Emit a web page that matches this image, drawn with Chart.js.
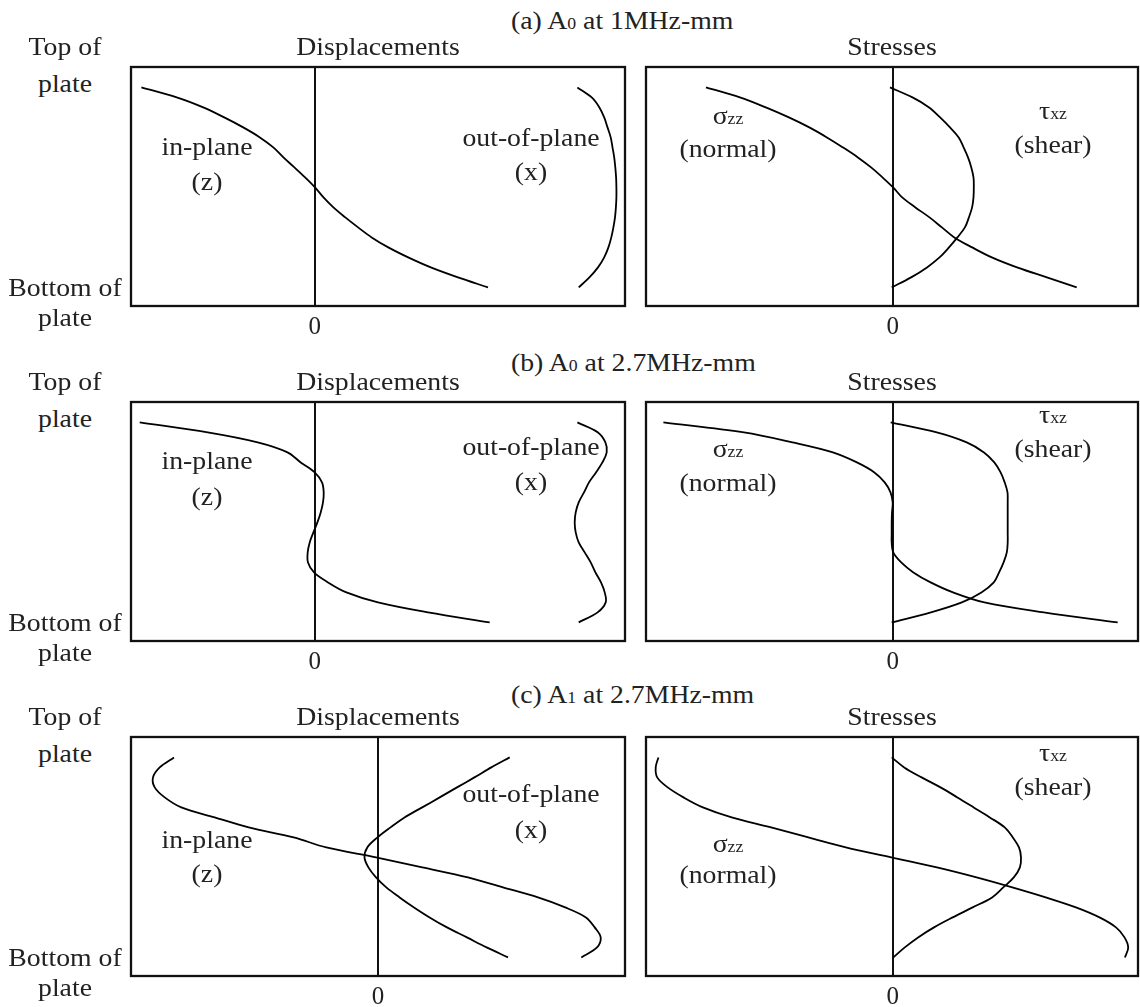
<!DOCTYPE html>
<html>
<head>
<meta charset="utf-8">
<title>Lamb wave mode shapes: displacements and stresses</title>
<script src="https://cdn.jsdelivr.net/npm/chart.js@4.4.1/dist/chart.umd.min.js"></script>
<style>
  html, body { margin: 0; padding: 0; background: #fff; }
  #page { position: relative; width: 1140px; height: 1007px; overflow: hidden;
          font-family: "Liberation Serif", "Times New Roman", serif; color: #222; }
  .lbl { position: absolute; white-space: nowrap; line-height: 1; font-size: 25px; }
  .lbl.c { transform: translateX(-50%) scaleX(1.11); transform-origin: center; }
  .lbl.l { transform: scaleX(1.11); transform-origin: left; }
  .lbl .sm { font-size: 16px; }
  canvas { position: absolute; }
</style>
</head>
<body>
<div id="page"></div>
<script>
// Position through the plate thickness: 1 = top surface, 0 = bottom surface
const depth = [1.00, 0.95, 0.90, 0.85, 0.80, 0.75, 0.70, 0.65, 0.60, 0.55, 0.50,
               0.45, 0.40, 0.35, 0.30, 0.25, 0.20, 0.15, 0.10, 0.05, 0.00];

// (a) A0 at 1 MHz-mm
const aInPlane    = [-1.733, -1.38, -1.115, -0.905, -0.715, -0.548, -0.414, -0.313, -0.203, -0.096, 0.003,
                      0.088, 0.187, 0.306, 0.434, 0.57, 0.736, 0.935, 1.161, 1.433, 1.733];
const aOutOfPlane = [2.627, 2.77, 2.847, 2.895, 2.928, 2.96, 2.978, 2.995, 3.006, 3.014, 3.017,
                     3.017, 3.012, 3.003, 2.987, 2.966, 2.937, 2.895, 2.833, 2.747, 2.64];
const aSigmaZZ    = [-1.867, -1.528, -1.269, -1.038, -0.834, -0.658, -0.498, -0.348, -0.216, -0.102, 0.004,
                      0.095, 0.227, 0.368, 0.492, 0.616, 0.794, 0.991, 1.243, 1.542, 1.84];
const aTauXZ      = [-0.027, 0.198, 0.364, 0.474, 0.573, 0.66, 0.709, 0.753, 0.786, 0.808, 0.811,
                      0.808, 0.794, 0.762, 0.722, 0.647, 0.563, 0.468, 0.343, 0.184, -0.01];

// (b) A0 at 2.7 MHz-mm
const bInPlane    = [-1.75, -1.07, -0.57, -0.272, -0.14, 0.0, 0.073, 0.09, 0.083, 0.06, 0.027,
                     -0.013, -0.05, -0.07, -0.067, -0.007, 0.133, 0.317, 0.633, 1.133, 1.75];
const bOutOfPlane = [2.627, 2.833, 2.907, 2.92, 2.877, 2.813, 2.743, 2.693, 2.64, 2.61, 2.6,
                     2.61, 2.64, 2.7, 2.76, 2.807, 2.863, 2.9, 2.91, 2.829, 2.64];
const bSigmaZZ    = [-2.293, -1.488, -1.002, -0.598, -0.358, -0.183, -0.08, -0.022, 0.0, -0.007, -0.01,
                     -0.01, -0.01, 0.005, 0.085, 0.207, 0.379, 0.603, 0.917, 1.511, 2.25];
const bTauXZ      = [-0.02, 0.441, 0.74, 0.913, 1.016, 1.079, 1.12, 1.148, 1.15, 1.15, 1.15,
                      1.15, 1.15, 1.141, 1.109, 1.064, 1.011, 0.887, 0.691, 0.381, -0.01];

// (c) A1 at 2.7 MHz-mm
const cInPlane    = [-2.04, -2.183, -2.25, -2.233, -2.133, -1.967, -1.633, -1.293, -0.843, -0.517, -0.02,
                      0.443, 0.9, 1.25, 1.6, 1.872, 2.079, 2.167, 2.227, 2.19, 2.033];
const cOutOfPlane = [1.317, 1.133, 0.964, 0.79, 0.617, 0.442, 0.265, 0.125, -0.005, -0.107, -0.135,
                     -0.096, -0.02, 0.083, 0.216, 0.36, 0.516, 0.69, 0.889, 1.086, 1.3];
const cSigmaZZ    = [-2.343, -2.37, -2.355, -2.25, -2.092, -1.898, -1.61, -1.216, -0.843, -0.469, -0.015,
                      0.442, 0.839, 1.196, 1.53, 1.832, 2.068, 2.233, 2.318, 2.355, 2.323];
const cTauXZ      = [-0.01, 0.115, 0.289, 0.478, 0.647, 0.81, 0.971, 1.12, 1.201, 1.263, 1.283,
                      1.272, 1.211, 1.106, 0.994, 0.799, 0.6, 0.413, 0.254, 0.121, 0.007];

// Axis ticks: only the zero of each amplitude axis is labelled
const tickValues = [0];
const tickLabels = ['0'];

// Text
const rowTitles   = [['(a) A', '0', ' at 1MHz-mm'], ['(b) A', '0', ' at 2.7MHz-mm'], ['(c) A', '1', ' at 2.7MHz-mm']];
const columnNames = ['Displacements', 'Stresses'];
const edgeNames   = ['Top of', 'plate', 'Bottom of', 'plate'];
const dispNames   = [['in-plane'], ['(z)'], ['out-of-plane'], ['(x)']];
const stressNames = [['σ', 'zz'], ['(normal)'], ['τ', 'xz'], ['(shear)']];

// ---------------- layout ----------------
const FONT = '"Liberation Serif", "Times New Roman", serif';
const FS = 25;
const ASC = 0.8375 * FS;          // baseline offset inside a line-height:1 box
const PAD = 12, AXIS_H = 40;
const BOX_H = 239;
const rowTops = [67, 402, 737];
const leftBox  = { x: 131, w: 494 };
const rightBox = { x: 646, w: 492 };
const Y_MIN = -0.093, Y_MAX = 1.102;

const panels = [
  { row: 0, box: leftBox,  x: [-1.837, 3.103], series: [aInPlane, aOutOfPlane] },
  { row: 0, box: rightBox, x: [-2.467, 2.453], series: [aSigmaZZ, aTauXZ] },
  { row: 1, box: leftBox,  x: [-1.837, 3.103], series: [bInPlane, bOutOfPlane] },
  { row: 1, box: rightBox, x: [-2.467, 2.453], series: [bSigmaZZ, bTauXZ] },
  { row: 2, box: leftBox,  x: [-2.47, 2.47],   series: [cInPlane, cOutOfPlane] },
  { row: 2, box: rightBox, x: [-2.467, 2.453], series: [cSigmaZZ, cTauXZ] }
];

// label anchors per row: [x centre, baseline]
const dispLabelPos = [
  [[207, 155], [207, 190], [531, 146], [531, 180]],
  [[207, 469], [207, 505], [531, 455], [531, 490]],
  [[207, 848], [207, 882], [531, 802], [531, 838]]
];
const stressLabelPos = [
  [[728, 124], [728, 157], [1053, 119], [1053, 153]],
  [[728, 457], [728, 491], [1053, 423], [1053, 457]],
  [[728, 852], [728, 883], [1053, 761], [1053, 795]]
];
const titleBaselines = [29, 371, 703];

const page = document.getElementById('page');

function addText(parts, x, baseline, align) {
  const d = document.createElement('div');
  d.className = 'lbl ' + align;
  parts.forEach((p, i) => {
    const s = document.createElement('span');
    s.textContent = p;
    if (i % 2 === 1) s.className = 'sm';
    d.appendChild(s);
  });
  d.style.left = x + 'px';
  d.style.top = (baseline - ASC) + 'px';
  page.appendChild(d);
}

// frame around each plot area
const framePlugin = {
  id: 'frame',
  afterDatasetsDraw(chart) {
    const { ctx, chartArea: a } = chart;
    ctx.save();
    ctx.strokeStyle = '#111';
    ctx.lineWidth = 2.3;
    ctx.strokeRect(a.left, a.top, a.right - a.left, a.bottom - a.top);
    ctx.restore();
  }
};

function makePanel(p) {
  const top = rowTops[p.row];
  const cv = document.createElement('canvas');
  cv.width = p.box.w + 2 * PAD;
  cv.height = PAD + BOX_H + AXIS_H;
  cv.style.left = (p.box.x - PAD) + 'px';
  cv.style.top = (top - PAD) + 'px';
  page.appendChild(cv);

  const datasets = p.series.map(vals => ({
    data: depth.map((d, i) => ({ x: vals[i], y: d })),
    showLine: true,
    borderColor: '#000',
    borderWidth: 1.8,
    pointRadius: 0,
    tension: 0.35,
    fill: false
  }));

  new Chart(cv, {
    type: 'scatter',
    data: { datasets },
    options: {
      responsive: false,
      animation: false,
      devicePixelRatio: 1,
      events: [],
      layout: { padding: { left: PAD, right: PAD, top: PAD, bottom: 0 } },
      plugins: { legend: { display: false }, tooltip: { enabled: false } },
      scales: {
        x: {
          type: 'linear',
          min: p.x[0],
          max: p.x[1],
          afterBuildTicks: ax => { ax.ticks = tickValues.map(v => ({ value: v })); },
          afterFit: ax => { ax.height = AXIS_H; },
          grid: { display: true, drawTicks: false, drawOnChartArea: true, color: '#111', lineWidth: 2 },
          border: { display: false },
          ticks: {
            autoSkip: false,
            maxRotation: 0,
            padding: 6,
            color: '#222',
            font: { family: FONT, size: FS },
            callback: (v, i) => tickLabels[i]
          }
        },
        y: { type: 'linear', min: Y_MIN, max: Y_MAX, display: false }
      }
    },
    plugins: [framePlugin]
  });
}

panels.forEach(makePanel);

// text around and inside the panels
rowTops.forEach((top, r) => {
  addText(rowTitles[r], 511, titleBaselines[r], 'l');
  addText([columnNames[0]], leftBox.x + leftBox.w / 2, top - 12, 'c');
  addText([columnNames[1]], 892, top - 12, 'c');
  addText([edgeNames[0]], 65, top - 12, 'c');
  addText([edgeNames[1]], 65, top + 25, 'c');
  addText([edgeNames[2]], 65, top + 229, 'c');
  addText([edgeNames[3]], 65, top + 259, 'c');
  dispNames.forEach((t, k) => addText(t, dispLabelPos[r][k][0], dispLabelPos[r][k][1], 'c'));
  stressNames.forEach((t, k) => addText(t, stressLabelPos[r][k][0], stressLabelPos[r][k][1], 'c'));
});
</script>
</body>
</html>
